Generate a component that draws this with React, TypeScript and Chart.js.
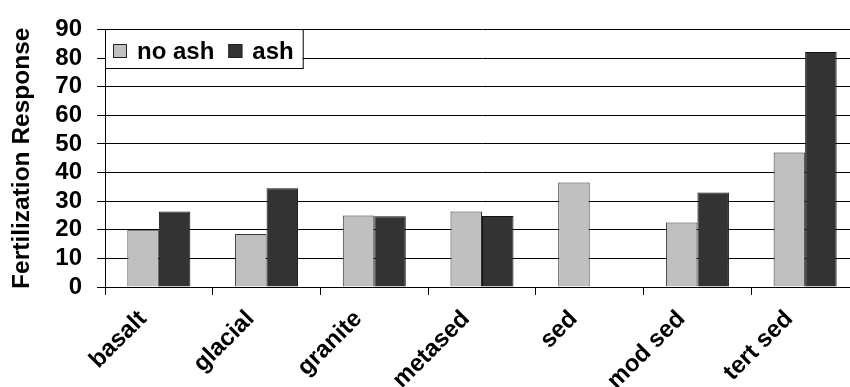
import React, { useEffect, useRef } from 'react';
import { Chart, registerables } from 'chart.js';

Chart.register(...registerables);

const categories = ['basalt', 'glacial', 'granite', 'metased', 'sed', 'mod sed', 'tert sed'];
const seriesLabels = ['no ash', 'ash'];
const noAsh = [20, 18.5, 25, 26.4, 36.5, 22.5, 47];
const ash: (number | null)[] = [26.4, 34.5, 24.7, 24.8, null, 33, 82.1];
const seriesColors = ['#C0C0C0', '#333333'];
const yMin = 0;
const yMax = 90;
const yStep = 10;
const yTitle = 'Fertilization Response';

const FONT = '"Liberation Sans", Arial, sans-serif';

const insideLegend = {
  id: 'insideLegend',
  afterDraw(chart: any) {
    const { ctx, chartArea } = chart;
    const x0 = Math.round(chartArea.left);
    const y0 = Math.round(chartArea.top);
    ctx.save();
    ctx.font = `bold 24px ${FONT}`;
    const padL = 8, box = 14, gap = 10, itemGap = 14, padR = 9, h = 39;
    const items = chart.data.datasets.map((d: any) => ({
      label: d.label,
      color: d.backgroundColor,
      w: ctx.measureText(d.label).width,
    }));
    let w = padL;
    items.forEach((it: any, i: number) => {
      w += box + gap + it.w + (i < items.length - 1 ? itemGap : 0);
    });
    w += padR;
    ctx.fillStyle = '#fff';
    ctx.fillRect(x0, y0, w, h);
    ctx.strokeStyle = '#000';
    ctx.lineWidth = 1;
    ctx.strokeRect(x0 + 0.5, y0 + 0.5, w, h);
    let x = x0 + padL;
    ctx.textBaseline = 'alphabetic';
    ctx.textAlign = 'left';
    items.forEach((it: any) => {
      ctx.fillStyle = it.color;
      ctx.fillRect(x, y0 + 15, box, box);
      ctx.strokeStyle = '#222';
      ctx.strokeRect(x + 0.5, y0 + 15.5, box - 1, box - 1);
      x += box + gap;
      ctx.fillStyle = '#000';
      ctx.fillText(it.label, x, y0 + 30);
      x += it.w + itemGap;
    });
    ctx.restore();
  },
};

export default function App() {
  const ref = useRef<HTMLCanvasElement>(null);
  useEffect(() => {
    if (!ref.current) return;
    const chart = new Chart(ref.current, {
      type: 'bar',
      data: {
        labels: categories,
        datasets: [
          {
            label: seriesLabels[0],
            data: noAsh,
            backgroundColor: seriesColors[0],
            borderColor: '#333',
            borderWidth: 1,
            barPercentage: 1,
            categoryPercentage: 0.585,
          },
          {
            label: seriesLabels[1],
            data: ash,
            backgroundColor: seriesColors[1],
            borderColor: '#111',
            borderWidth: 1,
            barPercentage: 1,
            categoryPercentage: 0.585,
          },
        ],
      },
      options: {
        responsive: false,
        animation: false,
        devicePixelRatio: 1,
        layout: { padding: { left: 0, top: 17, right: 11, bottom: 0 } },
        plugins: {
          legend: { display: false },
          tooltip: { enabled: false },
        },
        scales: {
          x: {
            grid: {
              offset: true,
              drawOnChartArea: false,
              color: '#000',
              tickLength: 8,
              tickWidth: 1,
            },
            border: { color: '#000', width: 1 },
            ticks: {
              maxRotation: 45,
              minRotation: 45,
              autoSkip: false,
              padding: 10,
              labelOffset: -16,
              color: '#000',
              font: { family: FONT, size: 24, weight: 'bold' },
            },
            afterFit: (s: any) => {
              s.height = 100;
            },
          },
          y: {
            min: yMin,
            max: yMax,
            ticks: {
              stepSize: yStep,
              autoSkip: false,
              padding: 15,
              color: '#000',
              font: { family: FONT, size: 24, weight: 'bold' },
            },
            grid: { color: '#000', tickLength: 8, lineWidth: 1 },
            border: { color: '#000', width: 1 },
            title: {
              display: true,
              text: yTitle,
              color: '#000',
              font: { family: FONT, size: 24.5, weight: 'bold' },
              padding: { top: 8, bottom: 0 },
            },
            afterFit: (s: any) => {
              s.width = 105;
            },
          },
        },
      },
      plugins: [insideLegend],
    });
    return () => chart.destroy();
  }, []);
  return (
    <div style={{ position: 'absolute', left: 0, top: 0, width: 850, height: 387, overflow: 'hidden', background: '#fff' }}>
      <canvas ref={ref} width={870} height={387} style={{ width: 870, height: 387, display: 'block' }} />
    </div>
  );
}
